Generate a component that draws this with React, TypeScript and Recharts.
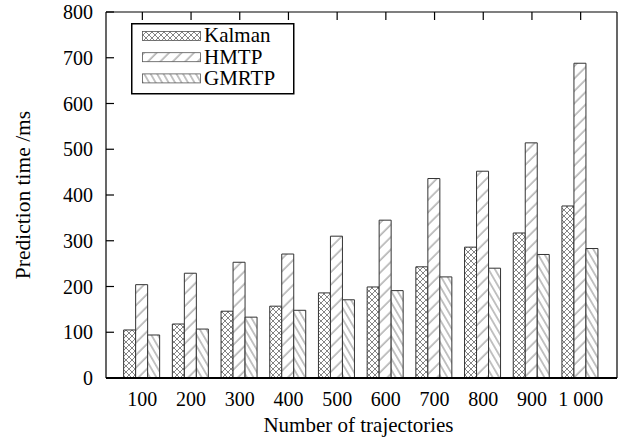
import React from 'react';
import { BarChart, Bar, XAxis, YAxis, Legend, Label } from 'recharts';

const categories = ['100', '200', '300', '400', '500', '600', '700', '800', '900', '1 000'];
const kalman = [105, 118, 146, 157, 186, 199, 243, 286, 317, 376];
const hmtp = [204, 229, 253, 271, 310, 345, 436, 452, 514, 688];
const gmrtp = [94, 107, 133, 148, 171, 191, 221, 240, 270, 283];
const yTicks = [0, 100, 200, 300, 400, 500, 600, 700, 800];
const seriesNames = ['Kalman', 'HMTP', 'GMRTP'];

const data = categories.map((c, i) => ({ name: c, Kalman: kalman[i], HMTP: hmtp[i], GMRTP: gmrtp[i] }));

const FONT = '"Liberation Serif", "Times New Roman", Times, serif';
const HATCH = '#666';
const EDGE = '#333';

const Patterns = ({ prefix }: { prefix: string }) => (
  <defs>
    <pattern id={`${prefix}K`} width={6} height={6} patternUnits="userSpaceOnUse">
      <rect x={0} y={0} width={6} height={6} fill="#fff" />
      <path d="M-1,-1L7,7M7,-1L-1,7" stroke={HATCH} strokeWidth={0.8} />
    </pattern>
    <pattern id={`${prefix}H`} width={8.8} height={8.8} patternUnits="userSpaceOnUse" patternTransform="rotate(45)">
      <rect x={0} y={0} width={8.8} height={8.8} fill="#fff" />
      <line x1={4} y1={0} x2={4} y2={8.8} stroke={HATCH} strokeWidth={0.8} />
    </pattern>
    <pattern id={`${prefix}G`} width={5.6} height={10} patternUnits="userSpaceOnUse" patternTransform="rotate(-30)">
      <rect x={0} y={0} width={5.6} height={10} fill="#fff" />
      <line x1={2.8} y1={0} x2={2.8} y2={10} stroke={HATCH} strokeWidth={0.8} />
    </pattern>
  </defs>
);

const fills = ['K', 'H', 'G'];

const LeftTick = (props: any) => {
  const { x, y, payload } = props;
  return (
    <g>
      <line x1={x} y1={y} x2={x + 8} y2={y} stroke="#000" strokeWidth={1.2} />
      <text x={x - 13} y={y + 7} textAnchor="end" fontFamily={FONT} fontSize={20} fill="#000">
        {payload.value}
      </text>
    </g>
  );
};

const RightTick = (props: any) => {
  const { x, y } = props;
  return <line x1={x} y1={y} x2={x - 8} y2={y} stroke="#000" strokeWidth={1.2} />;
};

const TopTick = (props: any) => {
  const { x, y } = props;
  return <line x1={x} y1={y} x2={x} y2={y + 8} stroke="#000" strokeWidth={1.2} />;
};

const BottomTick = (props: any) => {
  const { x, y, payload } = props;
  return (
    <text x={x} y={y + 27.5} textAnchor="middle" fontFamily={FONT} fontSize={20} fill="#000">
      {payload.value}
    </text>
  );
};

const LegendBox = () => (
  <svg width={164} height={72} style={{ display: 'block' }}>
    <Patterns prefix="lg" />
    <rect x={0.75} y={0.75} width={162} height={70} fill="#fff" stroke="#000" strokeWidth={1.5} />
    {seriesNames.map((n, i) => (
      <g key={n}>
        <rect x={11.5} y={8.5 + i * 21.2} width={58} height={9} fill={`url(#lg${fills[i]})`} stroke="#555" strokeWidth={0.8} />
        <text x={73} y={18.8 + i * 21.8} fontFamily={FONT} fontSize={21} fill="#000">
          {n}
        </text>
      </g>
    ))}
  </svg>
);

export default function App() {
  return (
    <div style={{ position: 'absolute', left: 0, top: 0, background: '#fff' }}>
      <BarChart
        width={622}
        height={441}
        data={data}
        margin={{ top: 0, right: 0, bottom: 0, left: 0 }}
        barGap={0}
        barCategoryGap="11.6%"
      >
        <Patterns prefix="p" />
        <XAxis
          dataKey="name"
          xAxisId="bottom"
          height={63}
          padding={{ left: 12, right: 12 }}
          tickLine={false}
          tickSize={0}
          tickMargin={0}
          axisLine={{ stroke: '#000', strokeWidth: 2 }}
          tick={<BottomTick />}
          interval={0}
        >
          <Label
            content={(p: any) => {
              const vb = p.viewBox;
              return (
                <text x={vb.x + vb.width / 2 - 3} y={432} textAnchor="middle" fontFamily={FONT} fontSize={21} fill="#000">
                  Number of trajectories
                </text>
              );
            }}
          />
        </XAxis>
        <XAxis
          dataKey="name"
          xAxisId="top"
          orientation="top"
          height={12}
          padding={{ left: 12, right: 12 }}
          tickLine={false}
          tickSize={0}
          tickMargin={0}
          axisLine={{ stroke: '#000', strokeWidth: 1.2 }}
          tick={<TopTick />}
          interval={0}
        />
        <YAxis
          yAxisId="left"
          width={106}
          domain={[0, 800]}
          ticks={yTicks}
          tickLine={false}
          tickSize={0}
          tickMargin={0}
          axisLine={{ stroke: '#000', strokeWidth: 1.2 }}
          tick={<LeftTick />}
          interval={0}
        >
          <Label
            content={() => (
              <text
                x={22.5}
                y={195}
                transform="rotate(-90 22.5 195)"
                textAnchor="middle"
                dominantBaseline="central"
                fontFamily={FONT}
                fontSize={21.5}
                fill="#000"
              >
                Prediction time /ms
              </text>
            )}
          />
        </YAxis>
        <YAxis
          yAxisId="right"
          orientation="right"
          width={5}
          domain={[0, 800]}
          ticks={yTicks}
          tickLine={false}
          tickSize={0}
          tickMargin={0}
          axisLine={{ stroke: '#000', strokeWidth: 1.2 }}
          tick={<RightTick />}
          interval={0}
        />
        <Legend
          layout="vertical"
          align="center"
          verticalAlign="middle"
          content={() => <LegendBox />}
          wrapperStyle={{ position: 'absolute', left: 131, top: 23, width: 164, height: 72 }}
        />
        <Bar dataKey="Kalman" xAxisId="bottom" yAxisId="left" fill="url(#pK)" stroke={EDGE} strokeWidth={1} isAnimationActive={false} />
        <Bar dataKey="HMTP" xAxisId="bottom" yAxisId="left" fill="url(#pH)" stroke={EDGE} strokeWidth={1} isAnimationActive={false} />
        <Bar dataKey="GMRTP" xAxisId="bottom" yAxisId="left" fill="url(#pG)" stroke={EDGE} strokeWidth={1} isAnimationActive={false} />
      </BarChart>
    </div>
  );
}
